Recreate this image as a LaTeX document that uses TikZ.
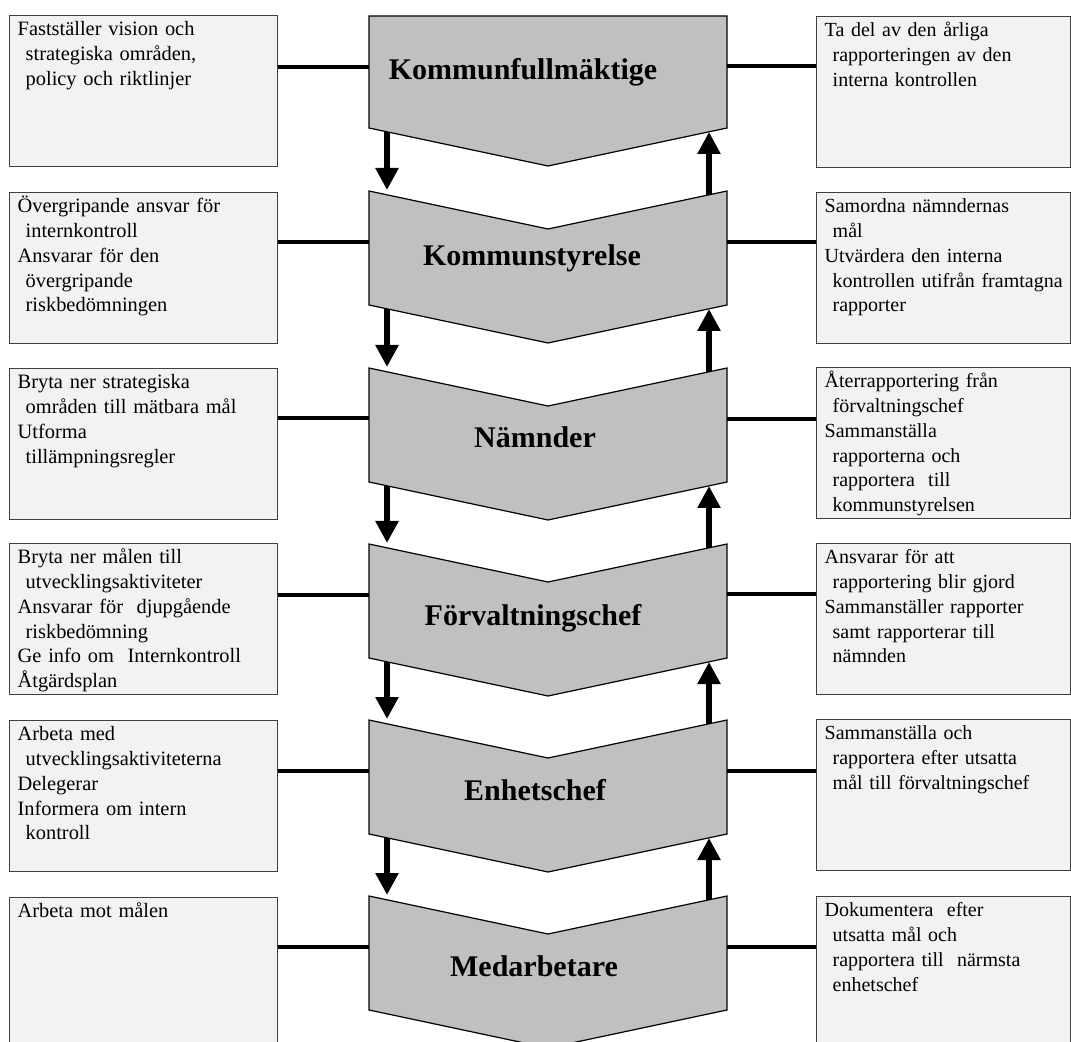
\documentclass[tikz,border=0pt]{standalone}
\usepackage{fontspec}
\setmainfont{Liberation Serif}
\usetikzlibrary{arrows.meta}
\definecolor{chevgray}{HTML}{C0C0C0}
\definecolor{boxgray}{HTML}{F2F2F2}
\definecolor{edgegray}{HTML}{404040}
\newcommand{\cont}{\hspace*{4pt}}

\begin{document}
\begin{tikzpicture}[
    x=0.5pt, y=-0.5pt,
    chev/.style={draw=black, line width=0.6pt, fill=chevgray},
    levelname/.style={anchor=base, font=\fontsize{15}{18}\selectfont\bfseries},
    lbox/.style={draw=edgegray, line width=0.7pt, fill=boxgray, anchor=north west, align=left,
        text width=126pt, inner xsep=4pt, inner ysep=1pt, text height=9pt, text depth=64.5pt,
        font=\fontsize{10.2}{12.4}\selectfont},
    rbox/.style={lbox, text width=118.8pt, font=\fontsize{10}{12.4}\selectfont},
    link/.style={line width=1.7pt},
    arrow/.style={-{Triangle[length=11pt, width=11pt]}, line width=3pt}
]
    \useasboundingbox (0,0) rectangle (1071,1042);

    % chevrons
    \draw[chev] (369,16) -- (727,16) -- (727,128) -- (548,166) -- (369,128) -- cycle;
    \draw[chev] (369,191) -- (548,229) -- (727,191) -- (727,305) -- (548,343) -- (369,305) -- cycle;
    \draw[chev] (369,368) -- (548,406) -- (727,368) -- (727,482) -- (548,520) -- (369,482) -- cycle;
    \draw[chev] (369,544) -- (548,582) -- (727,544) -- (727,658) -- (548,696) -- (369,658) -- cycle;
    \draw[chev] (369,720) -- (548,758) -- (727,720) -- (727,834) -- (548,872) -- (369,834) -- cycle;
    \draw[chev] (369,896) -- (548,934) -- (727,896) -- (727,1010) -- (548,1048) -- (369,1010) -- cycle;

    \node[levelname] (kf) at (523,80) {Kommunfullmäktige};
    \node[levelname] (ks) at (532,266) {Kommunstyrelse};
    \node[levelname] (nd) at (535,448) {Nämnder};
    \node[levelname] (fc) at (533,625) {Förvaltningschef};
    \node[levelname] (ec) at (535,800) {Enhetschef};
    \node[levelname] (ma) at (534,976) {Medarbetare};

    % where the lines meet the chevrons
    \coordinate (kfw) at (369,67);  \coordinate (kfe) at (727,66);
    \coordinate (ksw) at (369,242); \coordinate (kse) at (727,242);
    \coordinate (ndw) at (369,418); \coordinate (nde) at (727,419);
    \coordinate (fcw) at (369,595); \coordinate (fce) at (727,594);
    \coordinate (ecw) at (369,771); \coordinate (ece) at (727,771);
    \coordinate (maw) at (369,947); \coordinate (mae) at (727,947);

    % left boxes
    \node[lbox] (kfl) at (9,15) {Fastställer vision och\\ \cont strategiska områden,\\ \cont policy och riktlinjer};
    \node[lbox] (ksl) at (9,192) {Övergripande ansvar för\\ \cont internkontroll\\ Ansvarar för den\\ \cont övergripande\\ \cont riskbedömningen};
    \node[lbox] (ndl) at (9,368) {Bryta ner strategiska\\ \cont områden till mätbara mål\\ Utforma\\ \cont tillämpningsregler};
    \node[lbox] (fcl) at (9,543) {Bryta ner målen till\\ \cont utvecklingsaktiviteter\\ Ansvarar för~ djupgående\\ \cont riskbedömning\\ Ge info om~ Internkontroll\\ Åtgärdsplan};
    \node[lbox] (ecl) at (9,720) {Arbeta med\\ \cont utvecklingsaktiviteterna\\ Delegerar\\ Informera om intern\\ \cont kontroll};
    \node[lbox] (mal) at (9,897) {Arbeta mot målen};

    % right boxes
    \node[rbox] (kfr) at (816,16) {Ta del av den årliga\\ \cont rapporteringen av den\\ \cont interna kontrollen};
    \node[rbox] (ksr) at (816,192) {Samordna nämndernas\\ \cont mål\\ Utvärdera den interna\\ \cont\mbox{kontrollen utifrån framtagna}\\ \cont rapporter};
    \node[rbox] (ndr) at (816,367) {Återrapportering från\\ \cont förvaltningschef\\ Sammanställa\\ \cont rapporterna och\\ \cont rapportera~ till\\ \cont kommunstyrelsen};
    \node[rbox] (fcr) at (816,543) {Ansvarar för att\\ \cont rapportering blir gjord\\ Sammanställer rapporter\\ \cont samt rapporterar till\\ \cont nämnden};
    \node[rbox] (ecr) at (816,719) {Sammanställa och\\ \cont rapportera efter utsatta\\ \cont mål till förvaltningschef};
    \node[rbox] (mar) at (816,896) {Dokumentera~ efter\\ \cont utsatta mål och\\ \cont rapportera till~ närmsta\\ \cont enhetschef};

    \draw[link] (kfw -| kfl.east) -- (kfw);  \draw[link] (kfe) -- (kfe -| kfr.west);
    \draw[link] (ksw -| ksl.east) -- (ksw);  \draw[link] (kse) -- (kse -| ksr.west);
    \draw[link] (ndw -| ndl.east) -- (ndw);  \draw[link] (nde) -- (nde -| ndr.west);
    \draw[link] (fcw -| fcl.east) -- (fcw);  \draw[link] (fce) -- (fce -| fcr.west);
    \draw[link] (ecw -| ecl.east) -- (ecw);  \draw[link] (ece) -- (ece -| ecr.west);
    \draw[link] (maw -| mal.east) -- (maw);  \draw[link] (mae) -- (mae -| mar.west);

    % arrow ends on the chevron edges
    \coordinate (kfd) at (387,132); \coordinate (kfu) at (709,132);
    \coordinate (ksd) at (387,309); \coordinate (ksu) at (709,309);
    \coordinate (ndd) at (387,486); \coordinate (ndu) at (709,486);
    \coordinate (fcd) at (387,662); \coordinate (fcu) at (709,662);
    \coordinate (ecd) at (387,838); \coordinate (ecu) at (709,838);
    \coordinate (kst) at (387,190); \coordinate (ksb) at (709,195);
    \coordinate (ndt) at (387,367); \coordinate (ndb) at (709,372);
    \coordinate (fct) at (387,543); \coordinate (fcb) at (709,548);
    \coordinate (ect) at (387,719); \coordinate (ecb) at (709,724);
    \coordinate (mat) at (387,895); \coordinate (mab) at (709,900);

    \draw[arrow] (kfd) -- (kst);  \draw[arrow] (ksb) -- (kfu);
    \draw[arrow] (ksd) -- (ndt);  \draw[arrow] (ndb) -- (ksu);
    \draw[arrow] (ndd) -- (fct);  \draw[arrow] (fcb) -- (ndu);
    \draw[arrow] (fcd) -- (ect);  \draw[arrow] (ecb) -- (fcu);
    \draw[arrow] (ecd) -- (mat);  \draw[arrow] (mab) -- (ecu);
\end{tikzpicture}
\end{document}
